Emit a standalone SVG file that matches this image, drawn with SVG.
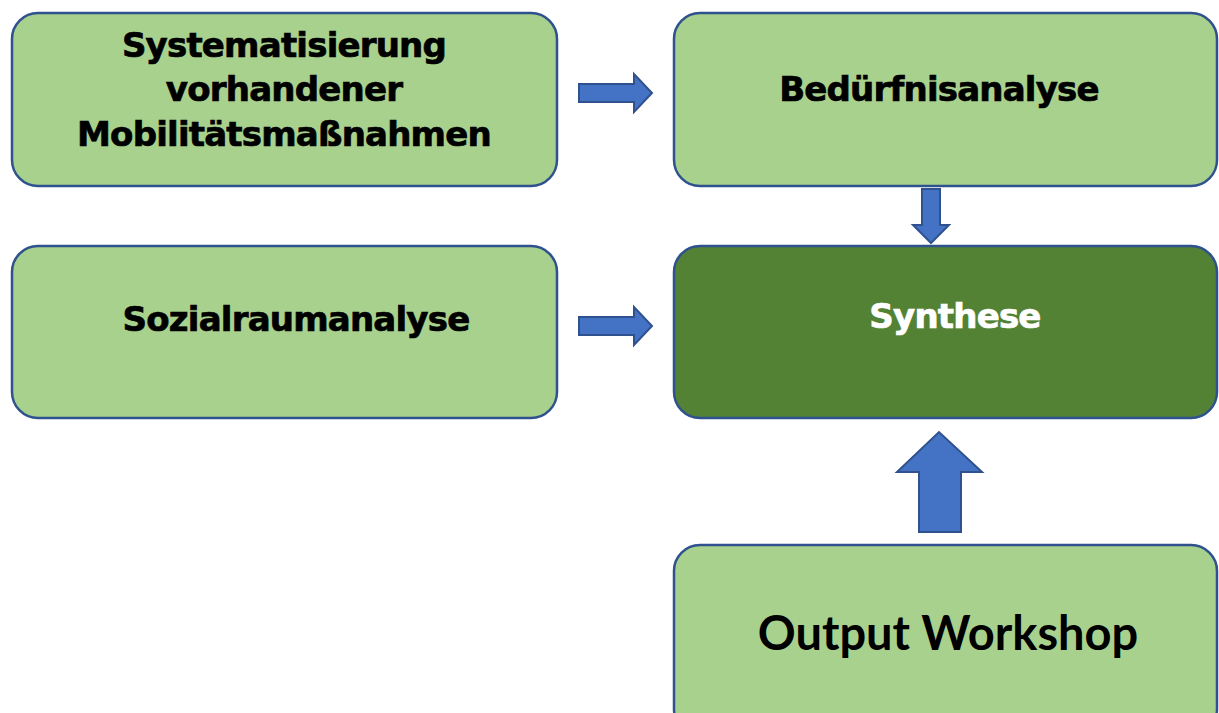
<svg xmlns="http://www.w3.org/2000/svg" width="1219" height="713" viewBox="0 0 1219 713">
<style>
.box{fill:#A9D18E;stroke:#2F528F;stroke-width:2.5}
.dark{fill:#548235}
.arrow{fill:#4472C4;stroke:#2F528F;stroke-width:2}
.t{font-family:"DejaVu Sans",Verdana,sans-serif;font-weight:bold;font-size:34px;letter-spacing:-0.8px;fill:#000;stroke:#000;stroke-width:0.7;text-anchor:middle}
.w{fill:#fff;stroke:#fff}
.cal{font-family:Lato,"Open Sans",sans-serif;font-weight:bold;font-size:47px;fill:#000;text-anchor:middle}
</style>
<rect width="1219" height="713" fill="#fff"/>
<g id="n1"><rect class="box" x="12" y="13" width="545" height="173" rx="26"/>
<text class="t" x="284" y="57">Systematisierung</text>
<text class="t" x="284" y="101">vorhandener</text>
<text class="t" x="284" y="146">Mobilitätsmaßnahmen</text></g>
<g id="n2"><rect class="box" x="674" y="13" width="543" height="173" rx="26"/>
<text class="t" x="939" y="101">Bedürfnisanalyse</text></g>
<g id="n3"><rect class="box" x="12" y="246" width="545" height="172" rx="26"/>
<text class="t" x="296" y="331">Sozialraumanalyse</text></g>
<g id="n4"><rect class="box dark" x="674" y="246" width="543" height="172" rx="26"/>
<text class="t w" x="955" y="328">Synthese</text></g>
<g id="n5"><rect class="box" x="674" y="545" width="543" height="190" rx="26"/>
<text class="cal" x="948" y="650">Output Workshop</text></g>
<g id="connectors">
<polygon class="arrow" points="579,84 634,84 634,74 652,93 634,112 634,102 579,102"/>
<polygon class="arrow" points="579,317 634,317 634,307 652,326 634,345 634,335 579,335"/>
<polygon class="arrow" points="922,189 940,189 940,225 949,225 931,243 913,225 922,225"/>
<polygon class="arrow" points="919,532 961,532 961,472 982,472 939,432 897,472 919,472"/>
</g>
</svg>
